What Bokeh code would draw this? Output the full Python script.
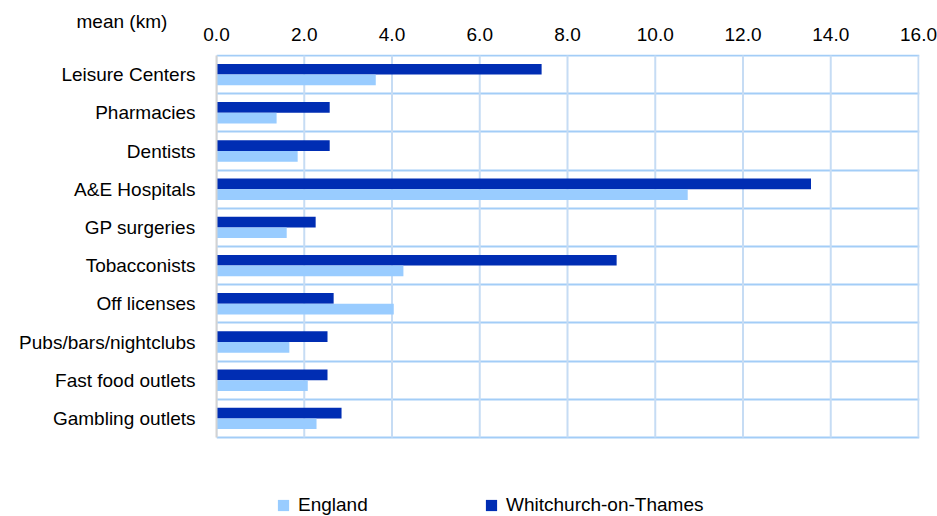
from bokeh.plotting import figure
from bokeh.models import (Range1d, FixedTicker, NumeralTickFormatter,
                          Legend, LegendItem, ColumnDataSource)
from bokeh.transform import dodge
from bokeh.embed import file_html
from bokeh.resources import INLINE

categories = ["Leisure Centers", "Pharmacies", "Dentists", "A&E Hospitals",
              "GP surgeries", "Tobacconists", "Off licenses",
              "Pubs/bars/nightclubs", "Fast food outlets", "Gambling outlets"]
england = [3.63, 1.37, 1.85, 10.74, 1.60, 4.26, 4.04, 1.66, 2.08, 2.28]
whitchurch = [7.41, 2.58, 2.58, 13.55, 2.26, 9.12, 2.67, 2.53, 2.53, 2.85]
x_ticks = [0, 2, 4, 6, 8, 10, 12, 14, 16]
series_names = ["England", "Whitchurch-on-Thames"]
axis_title = "mean (km)"

FONT = "Liberation Sans"
FS = "19px"
DARK = "#002db3"
LIGHT = "#99ccff"
HGRID = "#a3cdf7"
VGRID = "#c6dcf4"

# layout (pixels)
ROWS_H = 382          # height of the category block
ROWS_W = 702          # width of the 0..16 block
LEGEND_H = 79         # space under the category block for the legend
PAD = 1               # room so the border lines are not clipped

n = len(categories)
idx = [n - 1 - i for i in range(n)]          # first category on top
unit_y = ROWS_H / n
unit_x = ROWS_W / (x_ticks[-1] - x_ticks[0])
y_start = -0.5 - LEGEND_H / unit_y
y_end = n - 0.5 + PAD / unit_y
x_end = x_ticks[-1] + PAD / unit_x

src = ColumnDataSource(dict(pos=idx, cat=categories, eng=england, whit=whitchurch))

p = figure(frame_width=ROWS_W + PAD, frame_height=ROWS_H + LEGEND_H + PAD,
           x_range=Range1d(x_ticks[0], x_end), y_range=Range1d(y_start, y_end),
           x_axis_location="above",
           output_backend="svg", toolbar_location=None,
           min_border_left=216, min_border_right=19 - PAD,
           min_border_top=55 - PAD, min_border_bottom=0)
p.outline_line_color = None
p.background_fill_color = "white"
p.border_fill_color = "white"

# vertical grid lines limited to the category block
p.xgrid.visible = False
p.segment(x0=x_ticks, x1=x_ticks, y0=[-0.5] * len(x_ticks), y1=[n - 0.5] * len(x_ticks),
          line_color=VGRID, line_width=2)

# horizontal lines between categories
p.ygrid.ticker = FixedTicker(ticks=[k - 0.5 for k in range(n + 1)])
p.ygrid.grid_line_color = HGRID
p.ygrid.grid_line_width = 2

r_w = p.hbar(y=dodge("pos", 0.14), right="whit", left=0,
             height=0.28, source=src, fill_color=DARK, line_color=None)
r_e = p.hbar(y=dodge("pos", -0.14), right="eng", left=0,
             height=0.28, source=src, fill_color=LIGHT, line_color=None)

# top axis
p.xaxis.ticker = FixedTicker(ticks=x_ticks)
p.xaxis.formatter = NumeralTickFormatter(format="0.0")
p.xaxis.axis_line_color = None
p.xaxis.major_tick_line_color = None
p.xaxis.minor_tick_line_color = None
p.xaxis.major_label_text_font = FONT
p.xaxis.major_label_text_font_size = FS
p.xaxis.major_label_text_color = "#000000"
p.xaxis.major_label_standoff = 8

# left axis with category names
p.yaxis.ticker = FixedTicker(ticks=idx)
p.yaxis.major_label_overrides = {i: c for i, c in zip(idx, categories)}
p.yaxis.bounds = (-0.5, n - 0.5)
p.yaxis.axis_line_color = "#d3d3d3"
p.yaxis.axis_line_width = 2
p.yaxis.major_tick_line_color = None
p.yaxis.minor_tick_line_color = None
p.yaxis.major_label_text_font = FONT
p.yaxis.major_label_text_font_size = FS
p.yaxis.major_label_text_color = "#000000"
p.yaxis.major_label_standoff = 15

# "mean (km)" in the top panel, left of the plot area
p.title.text = axis_title
p.title.align = "left"
p.title.offset = -140
p.title.standoff = -14
p.title.text_font = FONT
p.title.text_font_size = FS
p.title.text_font_style = "normal"
p.title.text_color = "#000000"

def mk_legend(label, rend, loc):
    return Legend(items=[LegendItem(label=label, renderers=[rend])], location=loc,
                  orientation="horizontal", padding=0, margin=0,
                  border_line_color=None, background_fill_alpha=0,
                  glyph_width=14, glyph_height=14, label_standoff=8,
                  label_text_font=FONT, label_text_font_size=FS,
                  label_text_color="#000000")

p.add_layout(mk_legend(series_names[0], r_e, (60, 0)))
p.add_layout(mk_legend(series_names[1], r_w, (268, 0)))

open("out.html", "w").write(file_html(p, INLINE))
